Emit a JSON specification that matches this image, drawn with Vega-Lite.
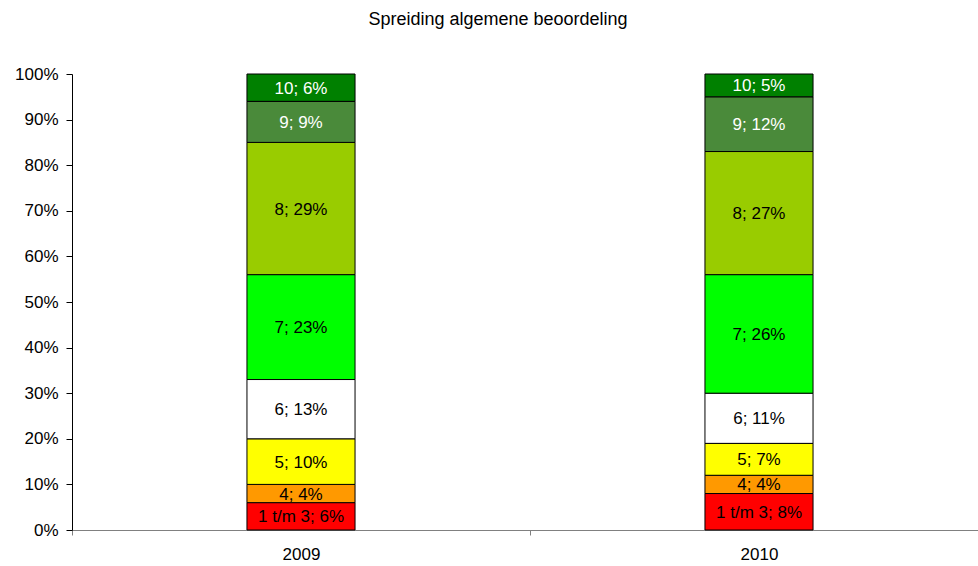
{
  "$schema": "https://vega.github.io/schema/vega-lite/v6.json",
  "autosize": "none",
  "width": 916,
  "height": 456,
  "padding": {"left": 72, "top": 74, "right": 0, "bottom": 36},
  "background": "white",
  "title": {
    "text": "Spreiding algemene beoordeling",
    "font": "Liberation Sans",
    "fontSize": 18,
    "fontWeight": "normal",
    "color": "#000000",
    "anchor": "middle",
    "frame": "group",
    "dx": -32,
    "offset": 36
  },
  "config": {
    "view": {"stroke": null},
    "font": "Liberation Sans"
  },
  "data": {
    "values": [
      {"year": "2009", "cat": "1 t/m 3", "rank": 1, "pct": 6, "label": "1 t/m 3; 6%"},
      {"year": "2009", "cat": "4", "rank": 2, "pct": 4, "label": "4; 4%"},
      {"year": "2009", "cat": "5", "rank": 3, "pct": 10, "label": "5; 10%"},
      {"year": "2009", "cat": "6", "rank": 4, "pct": 13, "label": "6; 13%"},
      {"year": "2009", "cat": "7", "rank": 5, "pct": 23, "label": "7; 23%"},
      {"year": "2009", "cat": "8", "rank": 6, "pct": 29, "label": "8; 29%"},
      {"year": "2009", "cat": "9", "rank": 7, "pct": 9, "label": "9; 9%"},
      {"year": "2009", "cat": "10", "rank": 8, "pct": 6, "label": "10; 6%"},
      {"year": "2010", "cat": "1 t/m 3", "rank": 1, "pct": 8, "label": "1 t/m 3; 8%"},
      {"year": "2010", "cat": "4", "rank": 2, "pct": 4, "label": "4; 4%"},
      {"year": "2010", "cat": "5", "rank": 3, "pct": 7, "label": "5; 7%"},
      {"year": "2010", "cat": "6", "rank": 4, "pct": 11, "label": "6; 11%"},
      {"year": "2010", "cat": "7", "rank": 5, "pct": 26, "label": "7; 26%"},
      {"year": "2010", "cat": "8", "rank": 6, "pct": 27, "label": "8; 27%"},
      {"year": "2010", "cat": "9", "rank": 7, "pct": 12, "label": "9; 12%"},
      {"year": "2010", "cat": "10", "rank": 8, "pct": 5, "label": "10; 5%"}
    ]
  },
  "encoding": {
    "x": {
      "field": "year",
      "type": "nominal",
      "scale": {"paddingInner": 0, "paddingOuter": 0},
      "axis": {
        "title": null,
        "labelAngle": 0,
        "labelFont": "Liberation Sans",
        "labelFontSize": 17,
        "labelColor": "#000000",
        "labelPadding": 11,
        "tickBand": "extent",
        "tickSize": 5,
        "tickColor": "#808080",
        "domainColor": "#808080",
        "domainWidth": 1,
        "grid": false
      }
    },
    "y": {
      "field": "pct",
      "type": "quantitative",
      "stack": "zero",
      "scale": {"domain": [0, 100], "nice": false},
      "axis": {
        "title": null,
        "values": [0, 10, 20, 30, 40, 50, 60, 70, 80, 90, 100],
        "labelExpr": "datum.value + '%'",
        "labelFont": "Liberation Sans",
        "labelFontSize": 17,
        "labelColor": "#000000",
        "labelPadding": 8,
        "tickSize": 6,
        "tickColor": "#000000",
        "domainColor": "#000000",
        "grid": false
      }
    },
    "order": {"field": "rank", "type": "quantitative", "sort": "ascending"}
  },
  "layer": [
    {
      "mark": {"type": "bar", "width": {"band": 0.236}, "stroke": "#000000", "strokeWidth": 1},
      "encoding": {
        "color": {
          "field": "cat",
          "type": "nominal",
          "scale": {
            "domain": ["1 t/m 3", "4", "5", "6", "7", "8", "9", "10"],
            "range": ["#FF0000", "#FF9900", "#FFFF00", "#FFFFFF", "#00FF00", "#99CC00", "#4A8A3A", "#008000"]
          },
          "legend": null
        }
      }
    },
    {
      "mark": {"type": "text", "font": "Liberation Sans", "fontSize": 17, "baseline": "middle", "align": "center", "dy": 1},
      "encoding": {
        "y": {"field": "pct", "type": "quantitative", "stack": "zero", "bandPosition": 0.5},
        "text": {"field": "label"},
        "color": {
          "condition": {"test": "datum.cat === '9' || datum.cat === '10'", "value": "#FFFFFF"},
          "value": "#000000"
        }
      }
    }
  ]
}
